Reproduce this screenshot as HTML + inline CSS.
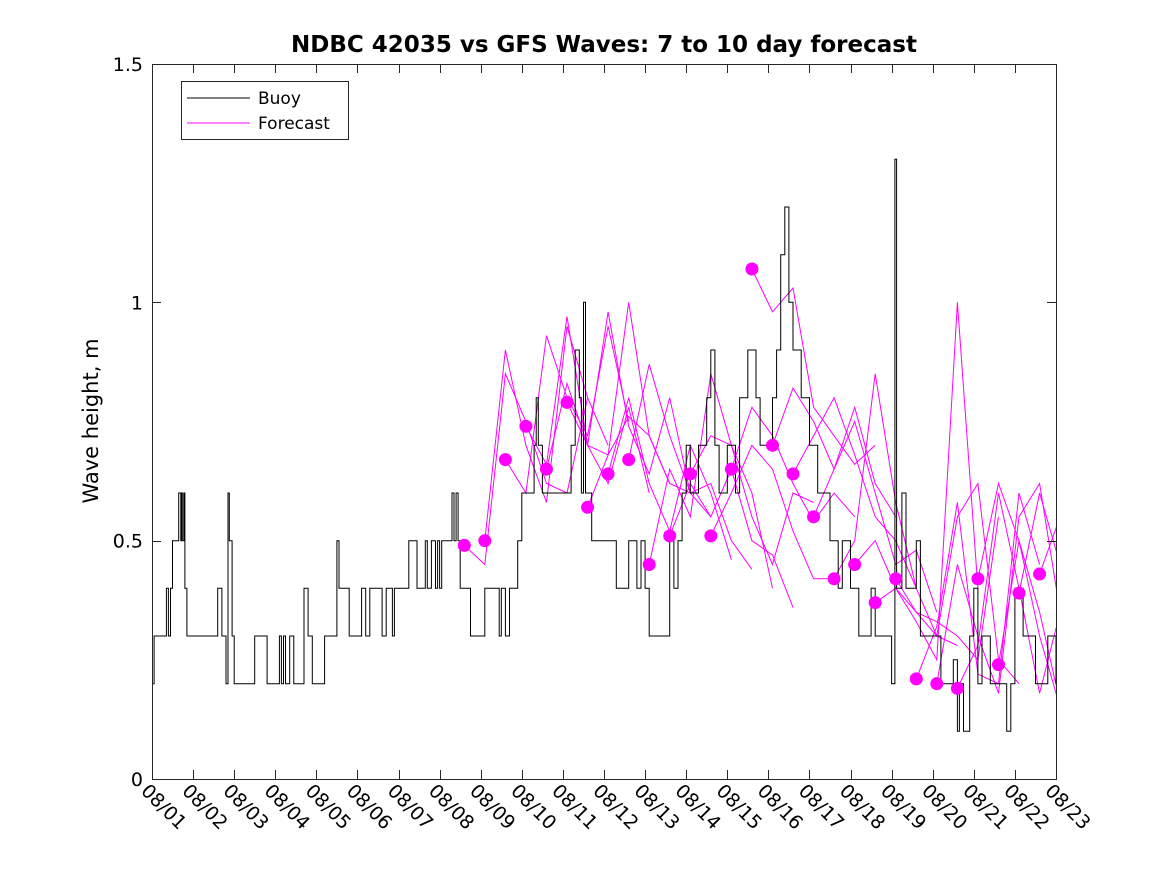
<!DOCTYPE html>
<html><head><meta charset="utf-8"><style>
body{margin:0;background:#fff;}
svg{display:block;font-family:"DejaVu Sans","Liberation Sans",sans-serif;}
</style></head><body>
<svg id="chart" width="1167" height="875" xmlns="http://www.w3.org/2000/svg">
<rect width="1167" height="875" fill="#fff"/>
<text x="604" y="52" text-anchor="middle" font-size="23" font-weight="bold">NDBC 42035 vs GFS Waves: 7 to 10 day forecast</text>
<text transform="translate(98,421) rotate(-90)" text-anchor="middle" font-size="21">Wave height, m</text>
<defs><clipPath id="clip"><rect x="152" y="64" width="904" height="715"/></clipPath></defs>
<g id="forecasts" clip-path="url(#clip)"></g>
<g id="buoy" clip-path="url(#clip)"></g>
<g id="dots"></g>
<rect x="152.5" y="64.5" width="904" height="715" fill="none" stroke="#262626" stroke-width="1"/>
<g id="axes"></g>
<g>
<rect x="181.5" y="81.5" width="167" height="58" fill="#fff" stroke="#262626"/>
<line x1="187" y1="98" x2="250" y2="98" stroke="#000"/>
<text x="258" y="104" font-size="17">Buoy</text>
<line x1="187" y1="123" x2="250" y2="123" stroke="#f0f"/>
<text x="258" y="129" font-size="17">Forecast</text>
</g>
</svg>
<script>
const xTickLabels=["08/01","08/02","08/03","08/04","08/05","08/06","08/07","08/08","08/09","08/10","08/11","08/12","08/13","08/14","08/15","08/16","08/17","08/18","08/19","08/20","08/21","08/22","08/23"];
const yTicks=[0,0.5,1,1.5];
const yTickLabels=["0","0.5","1","1.5"];
const buoyDays=[0,0.05,0.35,0.4,0.45,0.5,0.65,0.7,0.72,0.75,0.78,0.8,0.85,1.6,1.7,1.8,1.85,1.88,1.95,2.0,2.5,2.7,2.8,3.1,3.15,3.2,3.25,3.35,3.45,3.7,3.8,3.9,4.2,4.5,4.55,4.8,5.1,5.2,5.3,5.6,5.7,5.85,5.9,6.25,6.45,6.65,6.7,6.8,6.9,6.95,7.0,7.05,7.3,7.35,7.4,7.45,7.5,7.75,8.1,8.4,8.45,8.5,8.6,8.7,8.9,9.0,9.3,9.35,9.4,9.5,10.2,10.3,10.4,10.45,10.5,10.55,10.7,11.3,11.6,11.8,11.9,12.0,12.1,12.6,12.7,12.8,12.9,13.0,13.1,13.3,13.5,13.6,13.7,13.8,14.0,14.2,14.3,14.5,14.7,14.8,15.1,15.2,15.3,15.4,15.5,15.6,15.8,16.0,16.2,16.5,16.7,16.8,17.0,17.2,17.5,17.6,18.0,18.08,18.12,18.25,18.35,18.6,18.7,19.2,19.5,19.6,19.65,19.75,19.9,20.0,20.1,20.2,20.4,20.8,20.9,21.0,21.2,21.5,21.8,22];
const buoyValues=[0.2,0.3,0.4,0.3,0.4,0.5,0.6,0.5,0.6,0.5,0.6,0.4,0.3,0.4,0.3,0.2,0.6,0.5,0.3,0.2,0.3,0.3,0.2,0.3,0.2,0.3,0.2,0.3,0.2,0.4,0.3,0.2,0.3,0.5,0.4,0.3,0.4,0.3,0.4,0.3,0.4,0.3,0.4,0.5,0.4,0.5,0.4,0.5,0.4,0.5,0.4,0.5,0.6,0.5,0.6,0.5,0.4,0.3,0.4,0.4,0.3,0.4,0.3,0.4,0.5,0.6,0.7,0.8,0.7,0.6,0.7,0.9,0.8,0.6,1.0,0.6,0.5,0.4,0.5,0.4,0.5,0.4,0.3,0.5,0.4,0.5,0.6,0.7,0.6,0.7,0.8,0.9,0.7,0.6,0.7,0.6,0.8,0.9,0.8,0.7,0.8,0.9,1.1,1.2,1.0,0.9,0.8,0.7,0.6,0.5,0.4,0.5,0.4,0.3,0.4,0.3,0.2,1.3,0.4,0.6,0.4,0.5,0.3,0.2,0.25,0.1,0.2,0.1,0.3,0.4,0.2,0.3,0.2,0.1,0.2,0.4,0.3,0.2,0.3,0.2,0.2];
const forecastStartDays=[7.6,8.1,8.6,9.1,9.6,10.1,10.6,11.1,11.6,12.1,12.6,13.1,13.6,14.1,14.6,15.1,15.6,16.1,16.6,17.1,17.6,18.1,18.6,19.1,19.6,20.1,20.6,21.1,21.6];
const forecastValues=[
[.49,.45,.85,.75,.62,.60,.80],[.50,.90,.70,.58,.95,.80,.70],[.67,.60,.93,.80,.72,.95,.75],
[.74,.66,.97,.70,.62,.78,.60],[.65,.83,.70,.68,1.00,.72,.62],[.79,.70,.98,.74,.64,.80,.60],
[.57,.68,.76,.72,.62,.60,.55],[.64,.80,.62,.52,.70,.60,.46],[.67,.87,.72,.60,.62,.50,.44],
[.45,.65,.55,.85,.70,.60,.40],[.51,.62,.55,.65,.50,.47,.36],[.64,.72,.70,.55,.45,.60,.58],
[.51,.60,.70,.65,.52,.42,.42],[.65,.78,.72,.62,.54,.60,.55],[1.07,.98,1.03,.78,.72,.66,.70],
[.70,.82,.75,.65,.78,.62,.55],[.64,.72,.80,.68,.55,.50,.40],[.55,.65,.75,.60,.45,.48,.35],
[.42,.50,.85,.58,.40,.30,.28],[.45,.50,.40,.33,.25,1.0,.40],[.37,.40,.35,.33,.30,.25,.55],
[.42,.35,.30,.55,.62,.25,.20],[.21,.32,.58,.22,.20,.60,.45],[.20,.45,.30,.18,.55,.62,.35],
[.19,.28,.60,.40,.18,.35,.50],[.42,.62,.50,.30,.15,.30,.45],[.24,.50,.35,.16,.28,.58,.40],
[.39,.60,.45,.20,.17,.50,.55],[.43,.55,.38,.17,.22,.30,.38]];
const NS="http://www.w3.org/2000/svg";
const X=d=>152+d*(904/22), Y=v=>779-v*(715/1.5);
function mk(t,a,p){const e=document.createElementNS(NS,t);for(const k in a)e.setAttribute(k,a[k]);p.appendChild(e);return e;}
const ax=document.getElementById('axes');
xTickLabels.forEach((l,i)=>{const x=Math.round(X(i))+0.5;
 const t1=mk('line',{x1:x,y1:779,x2:x,y2:770,stroke:'#262626'},ax);
 const t2=mk('line',{x1:x,y1:64,x2:x,y2:73,stroke:'#262626'},ax);
 const tx=mk('text',{transform:`translate(${X(i)-12},${792}) rotate(45)`,'font-size':19},ax);tx.textContent=l;
 });
yTicks.forEach((v,i)=>{const y=Math.round(Y(v))+0.5;
 const t1=mk('line',{x1:152,y1:y,x2:161,y2:y,stroke:'#262626'},ax);
 const t2=mk('line',{x1:1056,y1:y,x2:1047,y2:y,stroke:'#262626'},ax);
 const tx=mk('text',{x:143,y:Y(v)+7,'text-anchor':'end','font-size':19},ax);tx.textContent=yTickLabels[i];
 });
const fg=document.getElementById('forecasts');
forecastValues.forEach((vals,i)=>{const pts=vals.map((v,j)=>X(forecastStartDays[i]+j*0.5).toFixed(1)+','+Y(v).toFixed(1)).join(' ');
 const p=mk('polyline',{points:pts,fill:'none',stroke:'#f0f','stroke-width':1},fg);
 });
let bp=[];buoyValues.forEach((v,i)=>{if(i>0)bp.push(X(buoyDays[i]).toFixed(1)+','+Y(buoyValues[i-1]).toFixed(1));bp.push(X(buoyDays[i]).toFixed(1)+','+Y(v).toFixed(1));});
const bl=mk('polyline',{points:bp.join(' '),fill:'none',stroke:'#000','stroke-width':1},document.getElementById('buoy'));

const dg=document.getElementById('dots');
forecastValues.forEach((vals,i)=>{const c=mk('circle',{cx:X(forecastStartDays[i]),cy:Y(vals[0]),r:6.5,fill:'#f0f'},dg);
 });
</script>
</body></html>
